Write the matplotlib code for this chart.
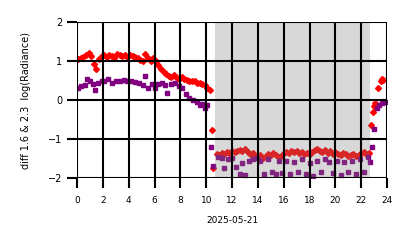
import matplotlib
matplotlib.use("Agg")
import matplotlib.pyplot as plt

# hours of the day and values
red_hours = [0.1, 0.3, 0.5, 0.7, 0.9, 1.1, 1.3, 1.5, 1.7, 1.9, 2.1, 2.3, 2.5, 2.7, 2.9,
             3.1, 3.3, 3.5, 3.7, 3.9, 4.1, 4.3, 4.5, 4.7, 4.9, 5.1, 5.3, 5.5, 5.7, 5.9,
             6.1, 6.3, 6.5, 6.7, 6.9, 7.1, 7.3, 7.5, 7.7, 7.9, 8.1, 8.3, 8.5, 8.7, 8.9,
             9.1, 9.3, 9.5, 9.7, 9.9, 10.1, 10.3, 10.45, 10.55,
             10.8, 11.0, 11.2, 11.4, 11.6, 11.8, 12.0, 12.2, 12.4, 12.6, 12.8, 13.0,
             13.2, 13.4, 13.6, 13.8, 14.0, 14.2, 14.4, 14.6, 14.8, 15.0, 15.2, 15.4,
             15.6, 15.8, 16.0, 16.2, 16.4, 16.6, 16.8, 17.0, 17.2, 17.4, 17.6, 17.8,
             18.0, 18.2, 18.4, 18.6, 18.8, 19.0, 19.2, 19.4, 19.6, 19.8, 20.0, 20.2,
             20.4, 20.6, 20.8, 21.0, 21.2, 21.4, 21.6, 21.8, 22.0, 22.2, 22.4, 22.6,
             22.75, 22.9, 23.0, 23.1, 23.3, 23.5, 23.6, 23.7]
red_vals = [1.05, 1.08, 1.1, 1.15, 1.2, 1.12, 0.92, 0.8, 1.05, 1.12, 1.15, 1.1, 1.15, 1.12, 1.08,
            1.18, 1.15, 1.12, 1.15, 1.1, 1.15, 1.12, 1.1, 1.08, 1.02, 1.0, 1.17, 1.08, 1.0, 1.08,
            1.0, 0.9, 0.8, 0.72, 0.68, 0.62, 0.6, 0.65, 0.58, 0.55, 0.58, 0.55, 0.52, 0.5, 0.48,
            0.5, 0.45, 0.45, 0.4, 0.38, 0.3, 0.25, -0.77, -1.75,
            -1.38, -1.4, -1.36, -1.38, -1.33, -1.35, -1.31, -1.33, -1.3, -1.28, -1.31, -1.26,
            -1.33, -1.38, -1.35, -1.43, -1.45, -1.41, -1.48, -1.43, -1.38, -1.41, -1.36, -1.41,
            -1.45, -1.43, -1.36, -1.33, -1.35, -1.31, -1.33, -1.3, -1.35, -1.33, -1.38, -1.35,
            -1.38, -1.33, -1.28, -1.25, -1.31, -1.33, -1.28, -1.36, -1.31, -1.38, -1.33, -1.38,
            -1.41, -1.35, -1.39, -1.43, -1.41, -1.38, -1.43, -1.4, -1.35, -1.33, -1.38, -1.35,
            -0.65, -0.3, -0.15, -0.08, 0.3, 0.5, 0.55, 0.52]

purple_hours = [0.1, 0.3, 0.6, 0.8, 1.0, 1.2, 1.4, 1.6, 1.9, 2.1, 2.4, 2.7, 3.0, 3.3, 3.6,
                3.9, 4.2, 4.5, 4.8, 5.1, 5.3, 5.5, 5.8, 6.0, 6.3, 6.6, 6.8, 7.0, 7.3, 7.6,
                7.9, 8.1, 8.4, 8.7, 9.0, 9.3, 9.5, 9.7, 9.9, 10.1, 10.35, 10.5,
                10.9, 11.2, 11.4, 11.7, 12.0, 12.3, 12.6, 12.8, 13.0, 13.3, 13.6, 13.9,
                14.2, 14.5, 14.8, 15.1, 15.4, 15.6, 15.9, 16.2, 16.5, 16.8, 17.1, 17.4,
                17.7, 18.0, 18.3, 18.6, 18.9, 19.2, 19.5, 19.8, 20.1, 20.4, 20.7, 21.0,
                21.3, 21.6, 21.9, 22.2, 22.5, 22.7,
                22.85, 23.0, 23.2, 23.4, 23.6, 23.8]
purple_vals = [0.3, 0.35, 0.38, 0.55, 0.5, 0.42, 0.25, 0.45, 0.48, 0.5, 0.55, 0.45, 0.48, 0.5, 0.52,
               0.5, 0.48, 0.47, 0.45, 0.38, 0.62, 0.3, 0.4, 0.3, 0.4, 0.45, 0.38, 0.18, 0.42, 0.45,
               0.35, 0.3, 0.15, 0.05, 0.0, -0.05, -0.12, -0.1, -0.2, -0.12, -1.2, -1.7,
               -1.45, -1.48, -1.75, -1.5, -1.48, -1.72, -1.9, -1.62, -1.92, -1.55, -1.5, -1.48,
               -1.55, -1.9, -1.5, -1.85, -1.9, -1.55, -1.88, -1.55, -1.9, -1.58, -1.85, -1.5,
               -1.9, -1.62, -1.95, -1.55, -1.85, -1.5, -1.6, -1.88, -1.55, -1.92, -1.6, -1.85,
               -1.55, -1.9, -1.5, -1.85, -1.45, -1.6,
               -1.2, -0.75, -0.2, -0.12, -0.08, -0.05]

span_start = 10.65
span_end = 22.7

fig = plt.figure(figsize=(4.14, 2.48), dpi=100)
ax = fig.add_axes([0.186, 0.282, 0.749, 0.629])

# points under the shaded span, grid on top of everything
ax.plot(red_hours, red_vals, linestyle='none', marker='D', markersize=3,
        color='red', zorder=1.0)
ax.plot(purple_hours, purple_vals, linestyle='none', marker='s', markersize=3,
        color='purple', zorder=1.0)
ax.axvspan(span_start, span_end, color='gray', alpha=0.3, lw=0, zorder=1.2)

ax.set_xlim(0, 24)
ax.set_ylim(-2, 2)
ax.set_xticks(range(0, 25, 2))
ax.set_yticks([-2, -1, 0, 1, 2])
ax.grid(True, color='black', linewidth=1.5, zorder=1.5)
ax.tick_params(labelsize=7, length=7, width=1.5, color='black')
ax.tick_params(axis='x', labelsize=6.5, pad=6)
for s in ax.spines.values():
    s.set_visible(False)

ax.set_xlabel('2025-05-21', fontsize=6.5, labelpad=8)
ax.set_ylabel('diff 1.6 & 2.3  log(Radiance)', fontsize=7, labelpad=12)

fig.savefig('out.png', dpi=100)
